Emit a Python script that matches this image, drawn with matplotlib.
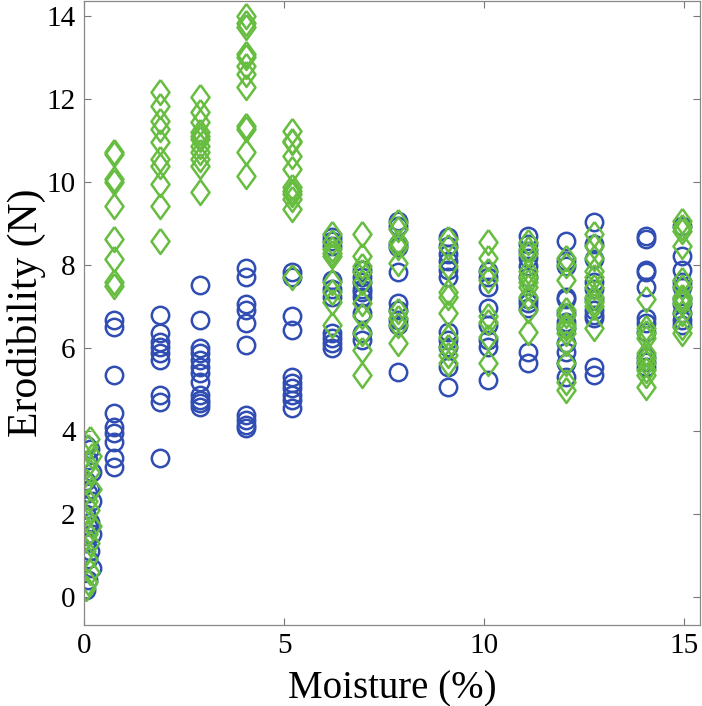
import numpy as np
import matplotlib
matplotlib.use("Agg")
import matplotlib.pyplot as plt

# --- DATA ---
# blue circles near zero moisture: (moisture, erodibility)
blue_x0 = [0.05, 0.15, 0.1, 0.2, 0.05, 0.15, 0.1, 0.2, 0.05, 0.15, 0.1, 0.2, 0.05, 0.15, 0.1, 0.2, 0.1, 0.05]
blue_y0 = [3.65, 3.55, 3.3, 3.0, 2.8, 2.6, 2.5, 2.3, 2.0, 1.8, 1.7, 1.5, 1.3, 1.1, 0.9, 0.7, 0.4, 0.15]
green_x0 = [0.15, 0.1, 0.2, 0.1, 0.15, 0.05, 0.2, 0.1, 0.15, 0.05, 0.2, 0.1, 0.15, 0.05, 0.1, 0.15, 0.1, 0.05]
green_y0 = [3.8, 3.6, 3.4, 3.2, 3.0, 2.8, 2.6, 2.3, 2.1, 1.9, 1.7, 1.5, 1.3, 1.1, 0.9, 0.6, 0.35, 0.2]

moisture = [0.76, 1.89, 2.89, 4.06, 5.21, 6.19, 6.96, 7.84, 9.09, 10.09, 11.09, 12.04, 12.76, 14.04, 14.94]

blue_cols = [
    [6.68, 6.51, 5.35, 4.43, 4.09, 3.95, 3.73, 3.34, 3.12],
    [6.80, 6.37, 6.15, 6.03, 5.88, 5.71, 4.87, 4.70, 3.34],
    [7.53, 6.68, 6.00, 5.88, 5.71, 5.54, 5.40, 5.18, 4.87, 4.75, 4.67, 4.58],
    [7.94, 7.70, 7.05, 6.92, 6.61, 6.08, 4.38, 4.26, 4.14, 4.07],
    [7.82, 7.72, 6.76, 6.44, 5.30, 5.16, 5.04, 4.87, 4.75, 4.55],
    [8.67, 8.57, 8.45, 7.65, 7.41, 7.24, 6.37, 6.25, 6.13, 6.00],
    [7.89, 7.72, 7.58, 7.41, 7.34, 7.24, 6.85, 6.37, 6.20],
    [9.06, 8.93, 8.50, 8.43, 7.82, 7.09, 6.92, 6.68, 6.56, 5.42],
    [8.67, 8.45, 8.26, 8.09, 7.89, 7.72, 6.39, 6.20, 6.03, 5.54, 5.06],
    [7.85, 7.70, 7.48, 6.97, 6.56, 6.20, 6.03, 5.23],
    [8.69, 8.50, 8.33, 8.18, 7.97, 7.72, 7.17, 7.09, 6.97, 5.91, 5.64],
    [8.57, 8.09, 7.97, 7.24, 7.17, 6.85, 6.63, 6.49, 6.13, 5.91, 5.64, 5.30],
    [9.03, 8.50, 8.14, 7.58, 7.41, 7.17, 6.92, 6.80, 6.73, 5.54, 5.35],
    [8.69, 8.62, 7.89, 7.82, 7.46, 6.73, 6.61, 6.39, 5.79, 5.67, 5.54],
    [8.93, 8.21, 7.89, 7.58, 7.46, 7.17, 7.05, 6.85, 6.68, 6.56],
]

green_cols = [
    [10.73, 10.68, 10.07, 10.00, 9.42, 8.62, 8.14, 7.60, 7.50],
    [12.18, 11.84, 11.48, 11.28, 10.97, 10.56, 10.39, 9.95, 9.42, 8.57],
    [12.05, 11.69, 11.45, 11.21, 11.11, 11.04, 10.87, 10.73, 10.56, 10.39, 9.76],
    [14.00, 13.83, 13.75, 13.10, 13.03, 12.80, 12.60, 12.30, 11.36, 11.28, 10.73, 10.15],
    [11.23, 10.99, 10.97, 10.63, 10.31, 9.88, 9.78, 9.71, 9.59, 9.35, 7.70],
    [8.74, 8.55, 8.38, 8.30, 8.21, 7.58, 7.34, 7.12, 6.56],
    [8.74, 8.21, 7.97, 7.82, 7.58, 7.09, 6.76, 6.37, 5.96, 5.35],
    [9.03, 8.86, 8.55, 8.43, 8.06, 6.88, 6.73, 6.56, 6.13],
    [8.62, 8.43, 7.97, 7.36, 7.24, 6.85, 6.27, 6.03, 5.84, 5.64],
    [8.55, 8.18, 7.85, 7.65, 6.76, 6.63, 6.27, 5.64],
    [8.55, 8.38, 8.26, 7.85, 7.72, 7.58, 7.46, 7.24, 6.92, 6.39],
    [8.18, 8.01, 7.65, 6.92, 6.80, 6.56, 6.49, 6.37, 6.13, 5.64, 5.18, 4.99],
    [8.74, 8.45, 8.18, 7.85, 7.70, 7.48, 7.24, 7.12, 7.00, 6.49],
    [7.17, 6.49, 6.37, 6.25, 5.88, 5.76, 5.64, 5.47, 5.35, 5.06],
    [9.06, 8.91, 8.81, 8.45, 7.65, 7.46, 7.24, 7.17, 7.09, 6.85, 6.51, 6.37],
]

x_ticks = [0, 5, 10, 15]
y_ticks = [0, 2, 4, 6, 8, 10, 12, 14]

blue = "#2F4DB2"
green = "#67BD3F"

# flatten the columns
bx = list(blue_x0)
by = list(blue_y0)
for m, col in zip(moisture, blue_cols):
    bx += [m] * len(col)
    by += col
gx = list(green_x0)
gy = list(green_y0)
for m, col in zip(moisture, green_cols):
    gx += [m] * len(col)
    gy += col

plt.rcParams['font.family'] = ['Liberation Serif', 'DejaVu Serif']

fig = plt.figure(figsize=(7.02, 7.06), dpi=100)
ax = fig.add_axes([0.1197, 0.115, 0.877, 0.883])

# MATLAB-like diamond, a bit narrower than tall
diamond = [(0, 1), (0.72, 0), (0, -1), (-0.72, 0), (0, 1)]

ax.plot(bx, by, linestyle='none', marker='o', markersize=12.5,
        markerfacecolor='none', markeredgecolor=blue, markeredgewidth=1.8)
ax.plot(gx, gy, linestyle='none', marker=diamond, markersize=18,
        markerfacecolor='none', markeredgecolor=green, markeredgewidth=1.8)

ax.set_xlim(0, 15.39)
ax.set_ylim(-0.68, 14.36)
ax.set_xticks(x_ticks)
ax.set_yticks(y_ticks)
ax.tick_params(direction='in', length=5, width=0.8, color='#777777',
               top=True, right=True, labelsize=21, pad=6)
for s in ax.spines.values():
    s.set_color('#888888')
    s.set_linewidth(0.9)

ax.set_xlabel('Moisture (%)', fontsize=28, labelpad=8)
ax.set_ylabel('Erodibility (N)', fontsize=30, labelpad=0)

fig.savefig('out.png', dpi=100)
